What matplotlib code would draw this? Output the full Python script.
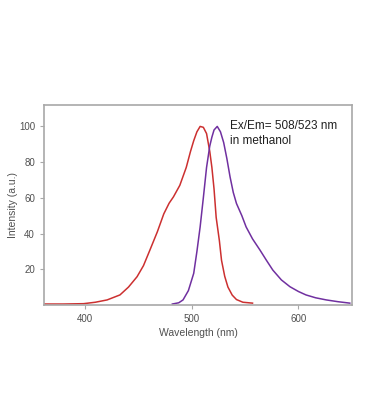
import matplotlib.pyplot as plt

plt.rcParams['font.family'] = ['Liberation Sans', 'DejaVu Sans']

# excitation spectrum (red)
ex_wl = [362, 380, 399, 410, 421, 433, 441, 449, 455, 461, 468, 474, 479, 483,
         489, 495, 499, 502, 505, 508, 511, 514, 517, 519, 521, 523, 526, 528,
         531, 534, 538, 542, 548, 557]
ex_int = [0.5, 0.5, 0.7, 1.5, 2.8, 5.6, 10, 15.8, 22, 30.7, 41, 51, 57, 60.5,
          67, 77, 86, 92, 97, 100, 99.5, 96, 86, 77, 65, 49, 36, 25,
          16, 10, 5.5, 3, 1.5, 1]

# emission spectrum (purple)
em_wl = [482, 488, 492, 497, 502, 505, 508, 511, 514, 517, 519, 521, 524, 527,
         530, 533, 536, 539, 542, 547, 551, 557, 564, 570, 576, 584, 592, 600,
         607, 616, 626, 637, 648]
em_int = [0.5, 1.2, 2.8, 8, 17.7, 30, 43.7, 60, 77, 89, 94, 98, 100, 97,
          91, 82, 71.7, 63, 56.8, 50, 43.7, 37, 30.7, 25, 19.5, 14, 10.2, 7.5,
          5.6, 4, 2.8, 1.8, 1]

fig = plt.figure(figsize=(3.67, 4.2), dpi=100)
ax = fig.add_axes([0.12, 0.274, 0.839, 0.476])

ax.plot(ex_wl, ex_int, color='#cc3030', lw=1.1)
ax.plot(em_wl, em_int, color='#7030a0', lw=1.1)

ax.set_xlim(362, 650)
ax.set_ylim(0, 112)
ax.set_xticks([400, 500, 600])
ax.set_yticks([20, 40, 60, 80, 100])

for s in ax.spines.values():
    s.set_color('#a8a8a8')
    s.set_linewidth(1.2)
ax.tick_params(colors='#a8a8a8', labelcolor='#505050', labelsize=7, length=3)

ax.set_xlabel('Wavelength (nm)', fontsize=7.5, color='#505050', labelpad=3)
ax.set_ylabel('Intensity (a.u.)', fontsize=7.5, color='#505050')
ax.yaxis.set_label_coords(-0.085, 0.5)

ax.text(536, 103.5, 'Ex/Em= 508/523 nm\nin methanol', fontsize=8.5, color='#202020',
        linespacing=1.3, va='top')

plt.savefig('out.png', dpi=100)
